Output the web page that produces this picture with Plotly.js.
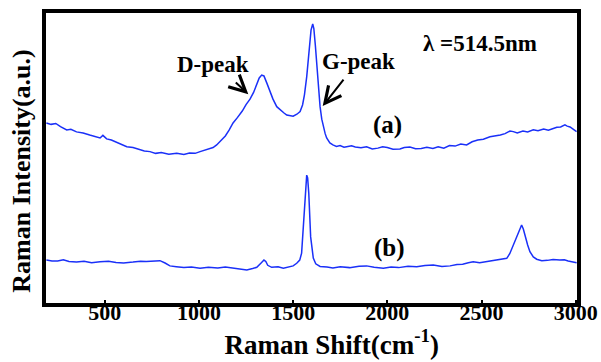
<!DOCTYPE html>
<html>
<head>
<meta charset="utf-8">
<script src="https://cdn.plot.ly/plotly-3.0.1.min.js"></script>
<style>html,body{margin:0;padding:0;background:#fff;}#chart{width:601px;height:362px;}</style>
</head>
<body>
<div id="chart"></div>
<script>
// Spectrum (a)
const waveA = [190,215,240,265,298,320,350,385,420,450,475,490,510,535,560,590,617,650,680,710,740,770,800,840,882,920,950,980,1006,1030,1050,1075,1094,1115,1140,1160,1181,1205,1230,1250,1271,1290,1305,1320,1333,1345,1360,1375,1393,1413,1430,1450,1466,1484,1500,1520,1537,1550,1560,1572,1580,1588,1595,1604,1610,1618,1625,1633,1643,1652,1660,1670,1678,1695,1711,1730,1749,1770,1784,1810,1830,1860,1890,1920,1950,1975,2000,2030,2067,2090,2120,2150,2180,2210,2242,2270,2300,2330,2360,2390,2421,2450,2480,2510,2545,2570,2600,2625,2651,2669,2690,2720,2745,2775,2800,2830,2855,2881,2900,2920,2943,2955,2970,2990,3005];
const intensityA = [62.1,61.6,61.9,60.8,59.7,59.9,59.0,58.6,57.9,57.3,56.9,57.8,56.6,56.2,55.5,54.6,53.9,53.6,53.1,52.4,52.2,51.6,51.9,51.3,51.6,51.2,51.7,51.6,52.2,52.6,53.1,53.6,54.5,55.8,57.6,59.6,62.1,64.0,66.2,68.4,70.3,72.6,75.4,77.6,78.6,78.3,75.9,73.0,70.3,67.7,66.6,65.6,64.8,64.5,64.4,65.1,66.0,68.3,71.8,78.0,83.5,89.5,94.1,96.2,94.6,88.8,83.1,75.5,67.7,63.4,61.0,58.4,56.9,55.2,54.5,54.0,54.3,53.7,53.9,54.2,53.8,53.5,53.9,53.1,53.4,53.9,53.6,53.0,53.1,53.6,53.8,53.2,53.3,53.7,53.3,53.9,53.4,54.3,54.1,54.8,54.5,55.6,56.2,56.5,57.3,57.5,57.9,58.4,59.3,59.1,58.6,59.3,59.0,59.7,59.4,60.0,59.6,60.2,60.6,60.7,61.4,61.0,60.7,59.8,59.1];

// Spectrum (b)
const waveB = [190,220,250,280,310,350,390,430,475,520,560,600,650,690,720,760,793,820,846,880,920,960,1006,1050,1100,1140,1181,1220,1254,1285,1307,1330,1345,1355,1365,1386,1420,1448,1475,1500,1519,1535,1545,1554,1565,1572,1577,1583,1593,1600,1607,1620,1643,1680,1711,1750,1800,1850,1890,1930,1979,2020,2060,2110,2156,2200,2244,2290,2333,2370,2400,2430,2456,2490,2530,2565,2598,2634,2650,2669,2685,2695,2713,2722,2730,2745,2757,2775,2793,2820,2850,2880,2916,2940,2960,2985,3005];
const intensityB = [14.8,14.5,14.5,14.9,14.3,14.1,14.4,13.9,14.2,14.4,14.0,13.8,14.1,14.4,14.3,14.5,14.6,13.8,12.8,12.5,12.2,12.4,12.0,12.3,12.1,12.4,12.0,11.8,11.4,11.9,12.3,13.8,14.8,14.3,13.0,12.3,12.5,12.0,12.4,12.8,13.7,14.8,17.2,26.2,37.9,44.1,43.1,37.9,22.8,18.0,15.5,13.5,12.6,12.4,12.1,12.5,12.2,12.7,12.8,12.3,12.0,12.4,12.2,12.7,12.5,12.9,13.1,12.6,12.8,13.3,13.4,13.9,14.2,13.9,14.3,14.6,14.8,15.4,17.0,20.0,22.5,24.5,26.9,25.5,23.4,20.0,17.7,15.9,15.1,14.6,14.7,15.0,14.8,14.9,14.5,14.1,13.9];

const xTickVals = [500,1000,1500,2000,2500,3000];
const xTickText = ['500','1000','1500','2000','2500','3000'];

const labels = ['D-peak','G-peak','λ =514.5nm','(a)','(b)'];
const labelX = [1074,1849,2492,2003,2009];
const labelY = [82.4,83.4,89.5,61.4,19.1];
const labelSize = [23,23,23,25,25];

const arrowTipX = [1262,1657];
const arrowTipY = [72.0,67.9];
const arrowDX = [-14,22];
const arrowDY = [-13,-28];

const serif = '"Liberation Serif", "Times New Roman", serif';
const lineColor = '#1a30f8';

const traces = [
  {x: waveA, y: intensityA, type: 'scatter', mode: 'lines', name: '(a)',
   line: {color: lineColor, width: 1.5}},
  {x: waveB, y: intensityB, type: 'scatter', mode: 'lines', name: '(b)',
   line: {color: lineColor, width: 1.5}}
];

const annotations = [];
labels.forEach((t, i) => {
  annotations.push({x: labelX[i], y: labelY[i], xref: 'x', yref: 'y', text: '<b>' + t + '</b>', showarrow: false,
    xanchor: 'center', yanchor: 'middle',
    font: {family: serif, size: labelSize[i], color: '#000'}});
});
arrowTipX.forEach((ax, i) => {
  annotations.push({x: ax, y: arrowTipY[i], xref: 'x', yref: 'y', text: '', showarrow: true,
    ax: arrowDX[i], ay: arrowDY[i], arrowhead: 5, arrowsize: 1.6, arrowwidth: 2,
    arrowcolor: '#000', standoff: 0});
});

const layout = {
  width: 601, height: 362,
  margin: {l: 46, r: 24, t: 13, b: 59},
  paper_bgcolor: '#fff', plot_bgcolor: '#fff',
  showlegend: false,
  font: {family: serif, color: '#000'},
  xaxis: {
    range: [188, 3007], tickvals: xTickVals, ticktext: xTickText.map(t => '<b>' + t + '</b>'),
    ticks: 'inside', ticklen: 3, tickwidth: 2, tickcolor: '#000',
    ticklabelstandoff: -13,
    showline: true, linewidth: 4, linecolor: '#000', mirror: true,
    showgrid: false, zeroline: false,
    tickfont: {family: serif, size: 22, color: '#000', weight: 'bold'},
    title: {text: '&nbsp;&nbsp;&nbsp;&nbsp;&nbsp;&nbsp;<b>Raman Shift(cm<sup>-1</sup>)</b>', standoff: 2,
      font: {family: serif, size: 27, color: '#000'}}
  },
  yaxis: {
    range: [0, 100], showticklabels: false, ticks: '',
    showline: true, linewidth: 4, linecolor: '#000', mirror: true,
    showgrid: false, zeroline: false,
    title: {text: '<b>Raman Intensity(a.u.)</b>&nbsp;&nbsp;&nbsp;&nbsp;', standoff: 5,
      font: {family: serif, size: 26, color: '#000'}}
  },
  annotations: annotations
};

Plotly.newPlot('chart', traces, layout, {displayModeBar: false, staticPlot: true});
</script>
</body>
</html>
